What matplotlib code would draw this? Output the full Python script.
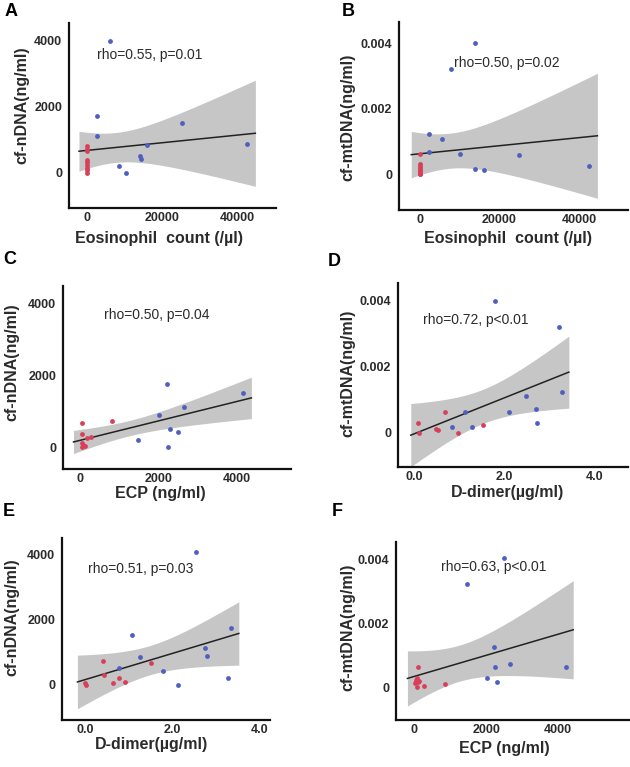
import numpy as np
import matplotlib
matplotlib.use("Agg")
import matplotlib.pyplot as plt

plt.rcParams['font.family'] = ['Liberation Sans', 'DejaVu Sans']

# ---- data (red = one group, blue = the other) ----
# A: eosinophil count vs cf-nDNA
eos_blue_A = [6130, 2750, 2770, 8440, 10400, 14130, 14300, 16000, 25240, 42760]
ndna_blue_A = [4000, 1727, 1120, 210, 0, 520, 430, 840, 1505, 880]
eos_red_A = [0, 0, 0, 0, 0, 0, 0, 0, 0]
ndna_red_A = [820, 740, 660, 400, 320, 240, 160, 80, 10]

# B: eosinophil count vs cf-mtDNA
eos_blue_B = [13820, 7960, 2350, 5610, 2430, 10050, 24950, 13820, 16080, 42460]
mt_blue_B = [0.00401, 0.00322, 0.00122, 0.00108, 0.00069, 0.00062, 0.00059, 0.00015, 0.00013, 0.00027]
eos_red_B = [0, 0, 0, 0, 0, 0, 0, 0, 0]
mt_red_B = [0.00062, 0.00032, 0.00026, 0.00020, 0.00014, 0.00009, 0.00005, 0.00002, 0.0]

# C: ECP vs cf-nDNA
ecp_blue_C = [2205, 2008, 2282, 2487, 2641, 4170, 1462, 2247]
ndna_blue_C = [1750, 888, 508, 433, 1128, 1517, 211, 0]
ecp_red_C = [41, 820, 41, 282, 169, 41, 110, 60, 30]
ndna_red_C = [667, 739, 369, 294, 267, 111, 36, 60, 20]

# D: D-dimer vs cf-mtDNA
dd_blue_D = [1.785, 3.20, 3.26, 2.47, 2.69, 2.10, 2.71, 1.11, 0.83, 1.28]
mt_blue_D = [0.00401, 0.00322, 0.00125, 0.00111, 0.00073, 0.00065, 0.00031, 0.00063, 0.00017, 0.00017]
dd_red_D = [0.075, 0.68, 0.47, 0.51, 0.09, 0.96, 1.51]
mt_red_D = [0.0003, 0.00065, 0.00012, 0.0001, 0.0, 0.0, 0.00025]

# E: D-dimer vs cf-nDNA
dd_blue_E = [2.54, 1.07, 3.35, 2.75, 2.78, 1.26, 1.78, 0.78, 2.12, 3.28]
ndna_blue_E = [4050, 1521, 1746, 1133, 898, 858, 438, 511, 0, 204]
dd_red_E = [0.0, 0.02, 0.42, 0.44, 0.65, 0.78, 0.91, 1.51]
ndna_red_E = [70, 0, 744, 306, 52, 205, 101, 664]

# F: ECP vs cf-mtDNA
ecp_blue_F = [2500, 1464, 2222, 2250, 2658, 4205, 2011, 2297]
mt_blue_F = [0.00405, 0.00325, 0.00127, 0.00065, 0.00074, 0.00063, 0.00031, 0.00018]
ecp_red_F = [94, 67, 130, 19, 278, 67, 853, 40, 110]
mt_red_F = [0.00065, 0.00029, 0.00021, 0.00014, 0.00006, 0.00003, 0.0001, 0.00025, 0.00018]

stats = ["rho=0.55, p=0.01", "rho=0.50, p=0.02", "rho=0.50, p=0.04",
         "rho=0.72, p<0.01", "rho=0.51, p=0.03", "rho=0.63, p<0.01"]
letters = ["A", "B", "C", "D", "E", "F"]
xlabels = ["Eosinophil  count (/\u00b5l)", "Eosinophil  count (/\u00b5l)", "ECP (ng/ml)",
           "D-dimer(\u00b5g/ml)", "D-dimer(\u00b5g/ml)", "ECP (ng/ml)"]
ylabels = ["cf-nDNA(ng/ml)", "cf-mtDNA(ng/ml)", "cf-nDNA(ng/ml)",
           "cf-mtDNA(ng/ml)", "cf-nDNA(ng/ml)", "cf-mtDNA(ng/ml)"]
eos_ticks = [0, 20000, 40000]
ecp_ticks = [0, 2000, 4000]
dd_ticks = [0.0, 2.0, 4.0]
ndna_ticks = [0, 2000, 4000]
mt_ticks = [0, 0.002, 0.004]
mt_ticklabels = ["0", "0.002", "0.004"]

# t quantiles (0.975) by degrees of freedom
T975 = {13: 2.160, 14: 2.145, 15: 2.131, 16: 2.120, 17: 2.110, 18: 2.101, 19: 2.093, 20: 2.086}

W, H = 630, 767
RED = "#d8405a"
BLUE = "#4f5fc0"
TXT = "#2b2b2b"

fig = plt.figure(figsize=(W / 100, H / 100), dpi=100)


def px_axes(l, t, r, b):
    return fig.add_axes([l / W, 1 - b / H, (r - l) / W, (b - t) / H])


def ftext(x, y, s, color=TXT, **kw):
    fig.text(x / W, 1 - y / H, s, color=color, **kw)


def reg_panel(ax, xr, yr, xb, yb):
    # OLS fit with 95% confidence band, line spans data range +-5%
    x = np.array(xr + xb, dtype=float)
    y = np.array(yr + yb, dtype=float)
    n = len(x)
    slope, icpt = np.polyfit(x, y, 1)
    resid = y - (icpt + slope * x)
    s = np.sqrt(np.sum(resid ** 2) / (n - 2))
    xm = x.mean()
    sxx = np.sum((x - xm) ** 2)
    span = x.max() - x.min()
    xg = np.linspace(x.min() - 0.05 * span, x.max() + 0.05 * span, 200)
    yg = icpt + slope * xg
    half = T975[n - 2] * s * np.sqrt(1 / n + (xg - xm) ** 2 / sxx)
    ax.fill_between(xg, yg - half, yg + half, color="#c6c6c6", lw=0, zorder=1)
    ax.plot(xg, yg, color="#222222", lw=1.1, zorder=2)
    ax.scatter(xr, yr, s=12, color=RED, lw=0, zorder=3)
    ax.scatter(xb, yb, s=12, color=BLUE, lw=0, zorder=3)


panels = [
    # data, axes rect (px), xlim, ylim, xticks, yticks, xtick fmt, ytick labels
    ((eos_red_A, ndna_red_A, eos_blue_A, ndna_blue_A), (69, 23, 276, 208),
     (-4800, 50400), (-1061, 4545), eos_ticks, ndna_ticks, "{:.0f}", None),
    ((eos_red_B, mt_red_B, eos_blue_B, mt_blue_B), (399, 22, 628, 210),
     (-5200, 52260), (-0.00109, 0.00466), eos_ticks, mt_ticks, "{:.0f}", mt_ticklabels),
    ((ecp_red_C, ndna_red_C, ecp_blue_C, ndna_blue_C), (63, 286, 291, 469),
     (-446, 5392), (-603, 4481), ecp_ticks, ndna_ticks, "{:.0f}", None),
    ((dd_red_D, mt_red_D, dd_blue_D, mt_blue_D), (398, 283, 628, 467),
     (-0.367, 4.73), (-0.00103, 0.00454), dd_ticks, mt_ticks, "{:.1f}", mt_ticklabels),
    ((dd_red_E, ndna_red_E, dd_blue_E, ndna_blue_E), (62, 538, 270, 720),
     (-0.52, 4.23), (-1072, 4493), dd_ticks, ndna_ticks, "{:.1f}", None),
    ((ecp_red_F, mt_red_F, ecp_blue_F, mt_blue_F), (396, 542, 630, 720),
     (-508, 5992), (-0.00101, 0.00455), ecp_ticks, mt_ticks, "{:.0f}", mt_ticklabels),
]

# text positions (px): x label, y label, stats (left edge), panel letter
xlab_pos = [(159, 239), (508, 238), (160, 494), (507, 493), (152, 745), (504, 749)]
ylab_pos = [(22, 105), (348, 117), (12, 362), (348, 373), (12, 617), (348, 627)]
stat_pos = [(97, 55), (454, 63), (104, 315), (423, 320), (88, 569), (441, 567)]
let_pos = [(5, 12), (342, 12), (3, 259), (328, 261), (3, 511), (332, 512)]

for i, (data, rect, xl, yl, xt, yt, xf, ytl) in enumerate(panels):
    ax = px_axes(*rect)
    reg_panel(ax, list(data[0]), list(data[1]), list(data[2]), list(data[3]))
    ax.set_xlim(*xl)
    ax.set_ylim(*yl)
    ax.set_xticks(xt)
    ax.set_xticklabels([xf.format(v) for v in xt])
    ax.set_yticks(yt)
    ax.set_yticklabels(ytl if ytl else ["{:.0f}".format(v) for v in yt])
    for side in ["top", "right"]:
        ax.spines[side].set_visible(False)
    for side in ["left", "bottom"]:
        ax.spines[side].set_linewidth(1.6)
        ax.spines[side].set_color("#111111")
    ax.tick_params(axis="x", length=0, pad=3, labelsize=9, labelcolor=TXT)
    ax.tick_params(axis="y", length=0, pad=5, labelsize=9, labelcolor=TXT)
    for lab in ax.get_xticklabels() + ax.get_yticklabels():
        lab.set_fontweight("bold")
    ax.patch.set_alpha(0)

    ftext(*xlab_pos[i], xlabels[i], fontsize=11.5, fontweight="bold", ha="center", va="center")
    ftext(*ylab_pos[i], ylabels[i], fontsize=11.5, fontweight="bold", ha="center", va="center",
          rotation=90)
    ftext(*stat_pos[i], stats[i], fontsize=10, ha="left", va="center")
    ftext(*let_pos[i], letters[i], color="black", fontsize=13, fontweight="bold",
          ha="left", va="center")

fig.savefig("out.png", dpi=100)
